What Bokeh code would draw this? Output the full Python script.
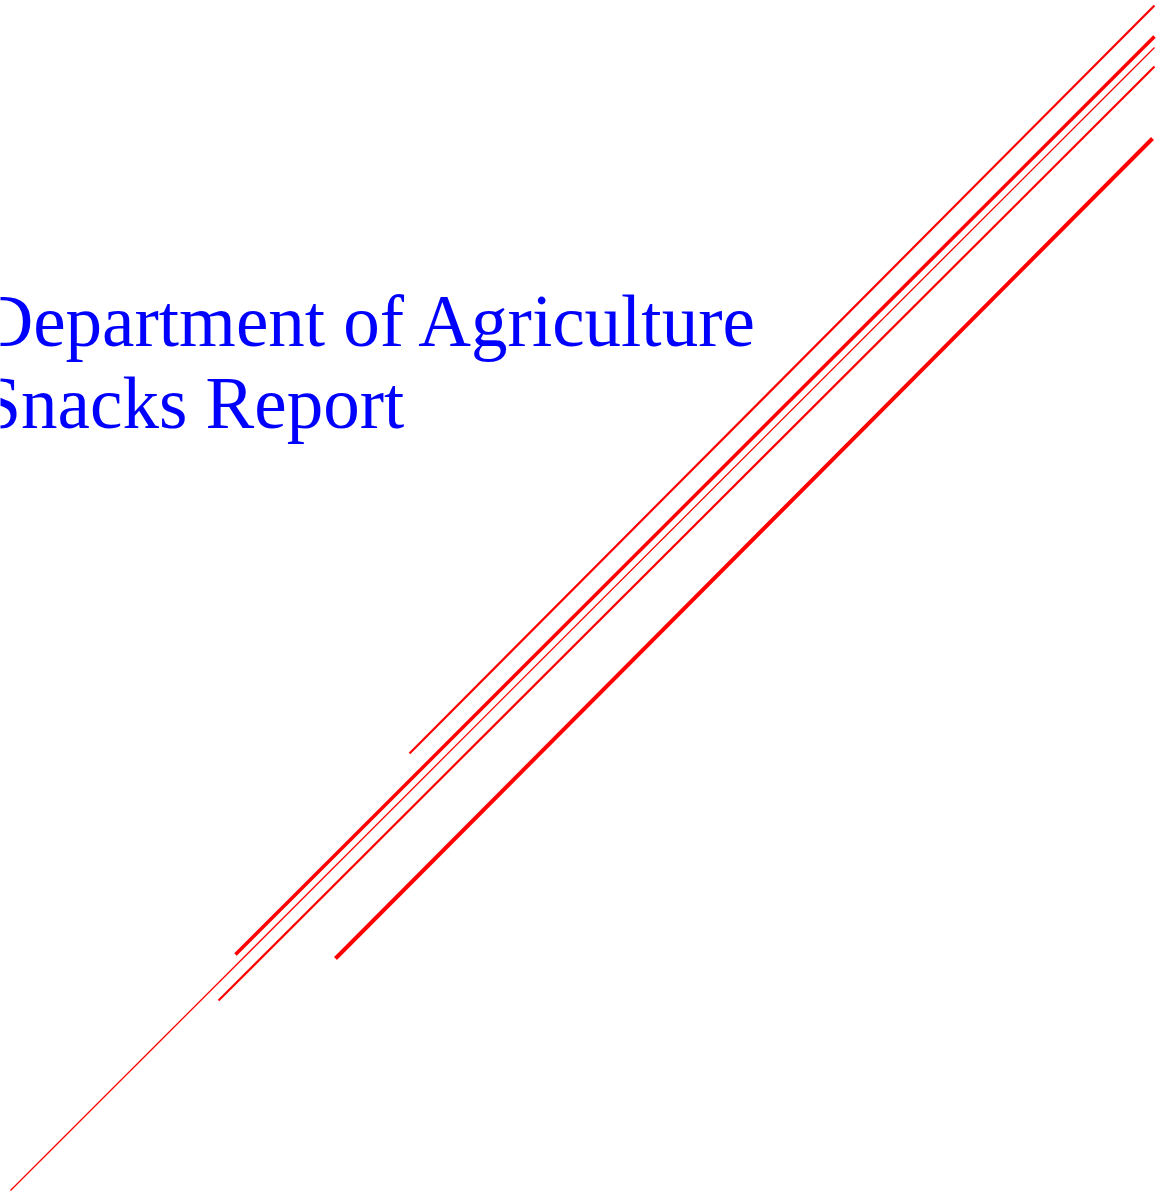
from bokeh.plotting import figure
from bokeh.models import Range1d, Label, ColumnDataSource
from bokeh.embed import file_html
from bokeh.resources import INLINE

# segment data (data units)
x0 = [409, 235, 10, 218, 335]
y0 = [442, 241, 5, 195, 237]
x1 = [1154, 1154, 1154, 1154, 1152]
y1 = [1190, 1159, 1148, 1129, 1057]
widths = [2.2, 3.5, 1.3, 2.2, 4.0]

title_lines = ["Department of Agriculture", "Snacks Report"]

p = figure(width=1160, height=1195, output_backend="svg", toolbar_location=None,
           x_range=Range1d(0, 1160), y_range=Range1d(0, 1195), min_border=0)
p.axis.visible = False
p.grid.visible = False
p.outline_line_color = None
p.background_fill_color = "white"
p.border_fill_color = "white"

src = ColumnDataSource(dict(x0=x0, y0=y0, x1=x1, y1=y1, w=widths))
p.segment(x0="x0", y0="y0", x1="x1", y1="y1", line_width="w", line_color="red", source=src)

lab = Label(x=-20, y=915, text="\n".join(title_lines), text_color="blue",
            text_font="Liberation Serif", text_font_size="73px",
            text_align="left", text_baseline="top", text_line_height=1.02)
p.add_layout(lab)

open("out.html", "w").write(file_html(p, INLINE))
